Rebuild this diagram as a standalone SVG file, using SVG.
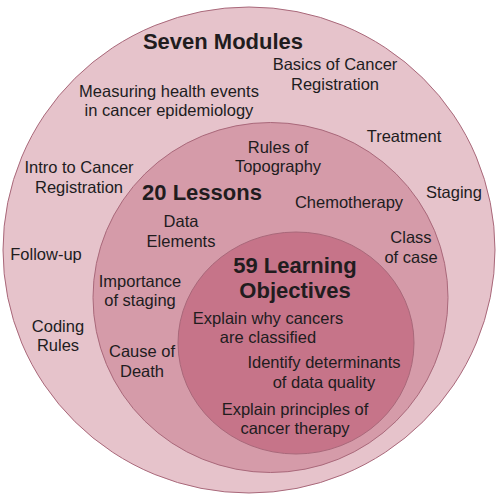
<svg xmlns="http://www.w3.org/2000/svg" width="500" height="500" viewBox="0 0 500 500">
<style>
.c{stroke:#a9687a;stroke-width:1}
text{font-family:"Liberation Sans",Arial,sans-serif;font-size:16.5px;fill:#211c1e;text-anchor:middle}
.b{font-weight:bold;font-size:22px}
</style>
<rect width="500" height="500" fill="#ffffff"/>
<g id="modules">
<ellipse class="c" cx="249" cy="250" rx="246" ry="243" fill="#e6c3cb"/>
<text class="b" x="223" y="49">Seven Modules</text>
<text x="169" y="97">Measuring health events</text>
<text x="169" y="116">in cancer epidemiology</text>
<text x="335" y="70">Basics of Cancer</text>
<text x="335" y="90">Registration</text>
<text x="404" y="142">Treatment</text>
<text x="454" y="198">Staging</text>
<text x="79" y="173">Intro to Cancer</text>
<text x="79" y="193">Registration</text>
<text x="46" y="260">Follow-up</text>
<text x="58" y="332">Coding</text>
<text x="58" y="351">Rules</text>
</g>
<g id="lessons">
<ellipse class="c" cx="270.5" cy="297.5" rx="177.5" ry="175" fill="#d59ba9"/>
<text class="b" x="202" y="200">20 Lessons</text>
<text x="278" y="153">Rules of</text>
<text x="278" y="172">Topography</text>
<text x="349" y="208">Chemotherapy</text>
<text x="411" y="243">Class</text>
<text x="411" y="263">of case</text>
<text x="181" y="227">Data</text>
<text x="181" y="247">Elements</text>
<text x="140" y="287">Importance</text>
<text x="140" y="306">of staging</text>
<text x="142" y="357">Cause of</text>
<text x="142" y="377">Death</text>
</g>
<g id="objectives">
<ellipse class="c" cx="296" cy="343" rx="118" ry="111" fill="#c67489"/>
<text class="b" x="295" y="273">59 Learning</text>
<text class="b" x="295" y="298">Objectives</text>
<text x="268" y="324">Explain why cancers</text>
<text x="268" y="343">are classified</text>
<text x="324" y="368">Identify determinants</text>
<text x="324" y="388">of data quality</text>
<text x="295" y="415">Explain principles of</text>
<text x="295" y="434">cancer therapy</text>
</g>
<g id="connectors"></g>
</svg>
